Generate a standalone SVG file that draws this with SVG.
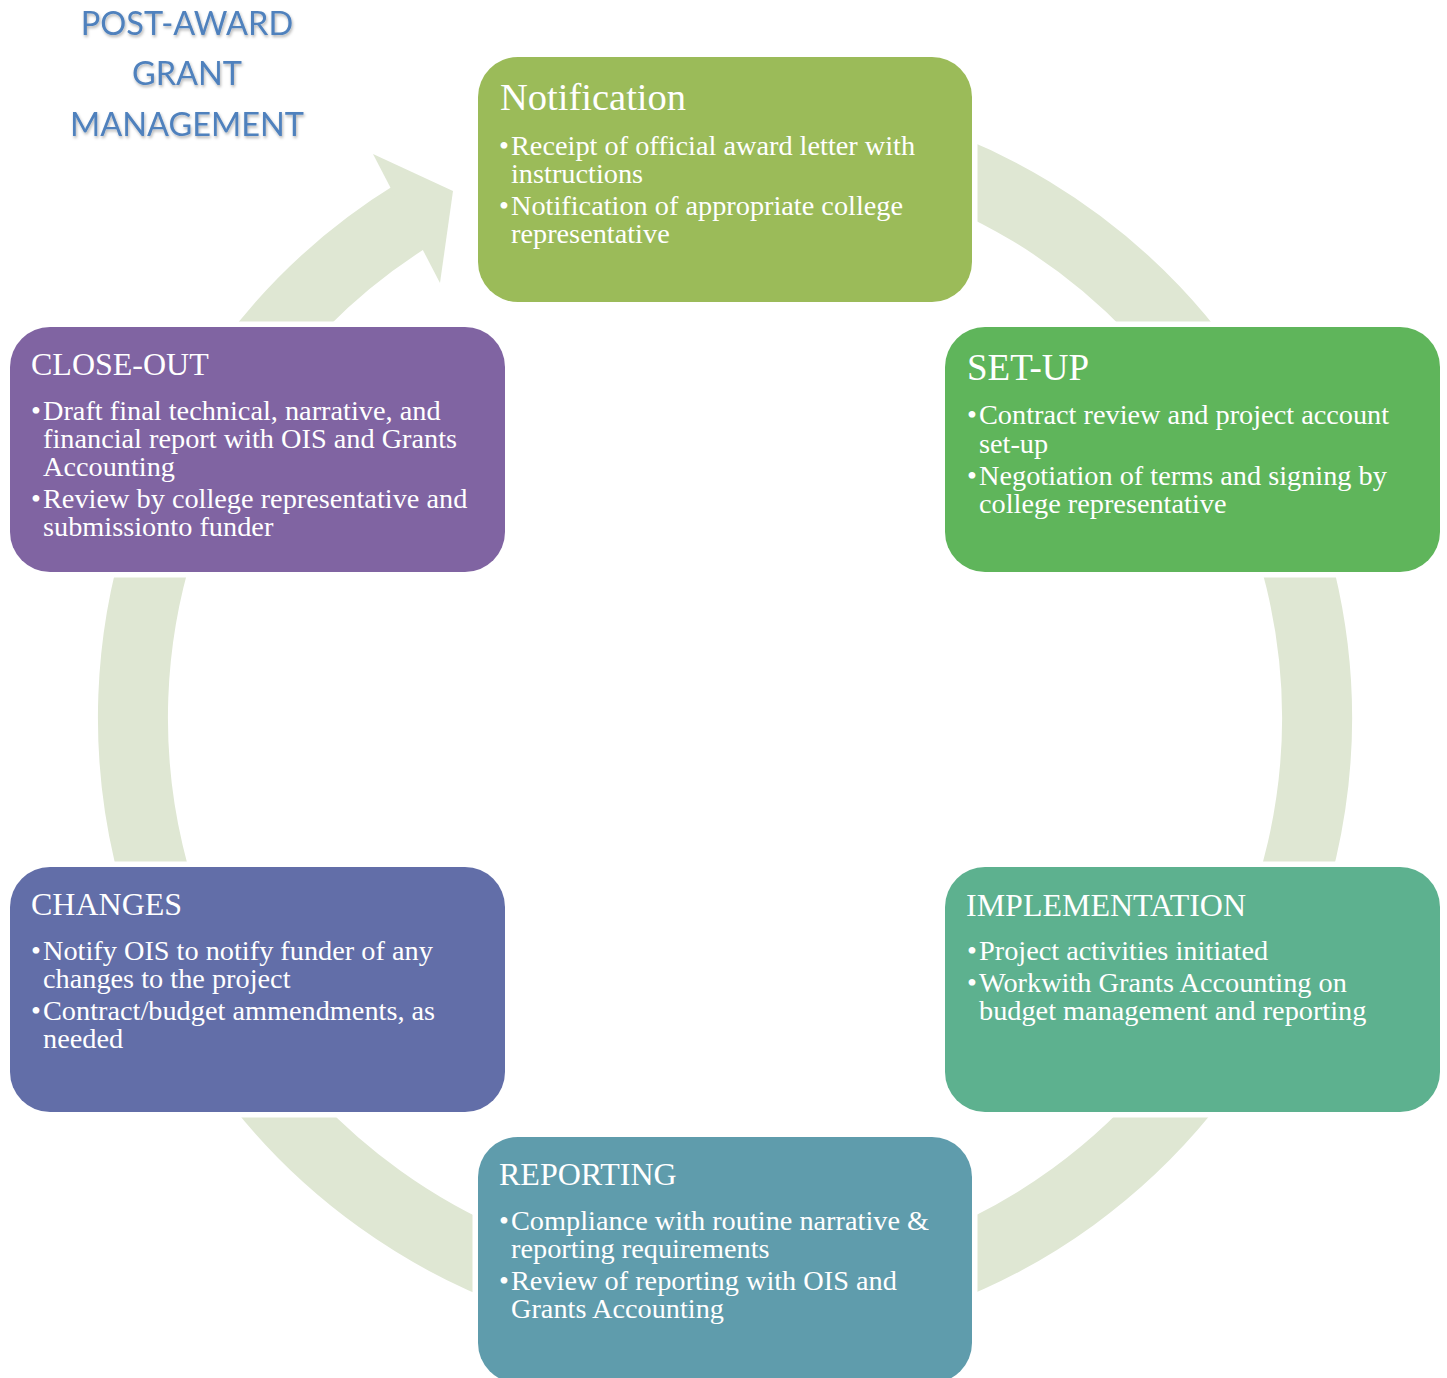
<svg xmlns="http://www.w3.org/2000/svg" width="1447" height="1378" viewBox="0 0 1447 1378">
<style>
.box{stroke:#ffffff;stroke-width:11;paint-order:stroke}
.t{font-family:"Liberation Serif","Times New Roman",serif;fill:#ffffff}
.h1{font-size:37px}
.h2{font-size:32px}
.b{font-size:28.3px}
.ttl{font-family:Lato,"Liberation Sans",sans-serif;font-size:32.5px;fill:#4f81bd;text-anchor:middle}
</style>
<defs>
<filter id="sh" x="-10%" y="-20%" width="120%" height="150%">
<feDropShadow dx="1" dy="2" stdDeviation="1.5" flood-color="#000" flood-opacity="0.3"/>
</filter>
</defs>
<rect width="1447" height="1378" fill="#ffffff"/>
<g id="title" filter="url(#sh)">
<text class="ttl" x="187" y="35">POST-AWARD</text>
<text class="ttl" x="187" y="85">GRANT</text>
<text class="ttl" x="187" y="136">MANAGEMENT</text>
</g>
<g id="connectors">
<path d="M 622.2 135 A 592 592 0 1 1 415.7 213.2" fill="none" stroke="#dfe7d3" stroke-width="70"/>
<polygon points="373,154 453,191 440,283" fill="#dfe7d3"/>
</g>
<g id="notification">
<rect class="box" x="478" y="57" width="494" height="245" rx="40" fill="#9bbb59"/>
<text class="t" x="500" y="110" font-size="38.5">Notification</text>
<text class="t b" x="499" y="155">•<tspan x="511">Receipt of official award letter with</tspan></text>
<text class="t b" x="511" y="183">instructions</text>
<text class="t b" x="499" y="215">•<tspan x="511">Notification of appropriate college</tspan></text>
<text class="t b" x="511" y="243">representative</text>
</g>
<g id="setup">
<rect class="box" x="945" y="327" width="495" height="245" rx="40" fill="#5fb55b"/>
<text class="t h1" x="967" y="380">SET-UP</text>
<text class="t b" x="967" y="424">•<tspan x="979">Contract review and project account</tspan></text>
<text class="t b" x="979" y="453">set-up</text>
<text class="t b" x="967" y="485">•<tspan x="979">Negotiation of terms and signing by</tspan></text>
<text class="t b" x="979" y="513">college representative</text>
</g>
<g id="implementation">
<rect class="box" x="945" y="867" width="495" height="245" rx="40" fill="#5db18f"/>
<text class="t h2" x="966" y="916">IMPLEMENTATION</text>
<text class="t b" x="967" y="960">•<tspan x="979">Project activities initiated</tspan></text>
<text class="t b" x="967" y="992">•<tspan x="979">Workwith Grants Accounting on</tspan></text>
<text class="t b" x="979" y="1020">budget management and reporting</text>
</g>
<g id="reporting">
<rect class="box" x="478" y="1137" width="494" height="246" rx="40" fill="#5f9cac"/>
<text class="t h2" x="499" y="1185">REPORTING</text>
<text class="t b" x="499" y="1230">•<tspan x="511">Compliance with routine narrative &amp;</tspan></text>
<text class="t b" x="511" y="1258">reporting requirements</text>
<text class="t b" x="499" y="1290">•<tspan x="511">Review of reporting with OIS and</tspan></text>
<text class="t b" x="511" y="1318">Grants Accounting</text>
</g>
<g id="changes">
<rect class="box" x="10" y="867" width="495" height="245" rx="40" fill="#626ea8"/>
<text class="t h2" x="31" y="915">CHANGES</text>
<text class="t b" x="31" y="960">•<tspan x="43">Notify OIS to notify funder of any</tspan></text>
<text class="t b" x="43" y="988">changes to the project</text>
<text class="t b" x="31" y="1020">•<tspan x="43">Contract/budget ammendments, as</tspan></text>
<text class="t b" x="43" y="1048">needed</text>
</g>
<g id="closeout">
<rect class="box" x="10" y="327" width="495" height="245" rx="40" fill="#8064a2"/>
<text class="t h2" x="31" y="375">CLOSE-OUT</text>
<text class="t b" x="31" y="420">•<tspan x="43">Draft final technical, narrative, and</tspan></text>
<text class="t b" x="43" y="448">financial report with OIS and Grants</text>
<text class="t b" x="43" y="476">Accounting</text>
<text class="t b" x="31" y="508">•<tspan x="43">Review by college representative and</tspan></text>
<text class="t b" x="43" y="536">submissionto funder</text>
</g>
</svg>
